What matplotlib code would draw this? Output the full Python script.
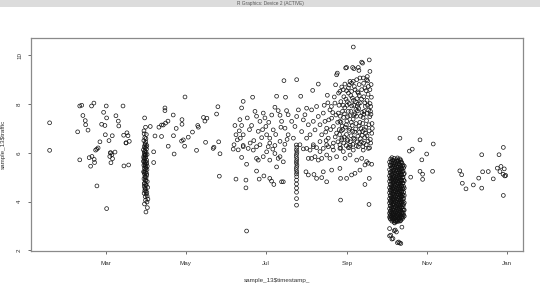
import datetime as dt
import matplotlib
matplotlib.use("Agg")
import matplotlib.pyplot as plt
import matplotlib.dates as mdates

plt.rcParams['font.family'] = ['Liberation Sans', 'DejaVu Sans']

# (day of 2013, traffic)
early = [(16, 7.23), (16, 6.1), (37.4, 6.86), (39, 7.92), (40.5, 7.95), (41.4, 7.53),
         (43.2, 7.32), (43.5, 7.15), (45.3, 6.93), (39, 5.71), (48, 7.92), (49.8, 8.04),
         (46.2, 5.8), (47.3, 5.45), (48.3, 5.85), (50, 5.73), (50.3, 5.6), (51.1, 6.11),
         (52, 6.15), (53, 6.2), (54.4, 6.45), (52.1, 4.64), (55.7, 7.17), (57.2, 7.66),
         (58.2, 7.12), (59.2, 7.92), (59.5, 7.43), (58.5, 6.74), (61.3, 6.5), (63.8, 6.7),
         (62.3, 6.0), (61.9, 5.85), (62.7, 6.0), (63.5, 5.92), (64, 5.76), (62.8, 5.59),
         (65.9, 6.03), (66.6, 7.52), (68.4, 7.3), (68.8, 7.1), (72, 7.92), (72.7, 5.46),
         (72.5, 6.72), (74.3, 6.41), (75, 6.82), (75.8, 6.7), (74.3, 6.4), (76.8, 6.47),
         (76.3, 5.5), (59.5, 3.71)]

mar_stripe = [(88.5, 7.43), (89.2, 7.05), (88.0, 6.9), (89.8, 6.75), (88.6, 6.62), (87.9, 6.5),
              (89.4, 6.45), (88.9, 6.38), (90.2, 6.3), (88.2, 6.25), (89.0, 6.2), (87.6, 6.12),
              (88.7, 6.08), (89.6, 6.02), (88.3, 5.97), (90.4, 5.93), (88.9, 5.88), (87.8, 5.84),
              (89.3, 5.8), (88.5, 5.75), (90.0, 5.7), (88.1, 5.66), (89.1, 5.62), (88.6, 5.57),
              (89.8, 5.53), (87.9, 5.49), (88.8, 5.45), (89.5, 5.4), (88.3, 5.36), (90.3, 5.31),
              (88.9, 5.27), (87.7, 5.22), (89.2, 5.18), (88.4, 5.13), (90.1, 5.08), (88.7, 5.03),
              (89.6, 4.98), (88.0, 4.93), (89.0, 4.88), (90.5, 4.82), (88.5, 4.76), (89.4, 4.7),
              (88.2, 4.63), (90.8, 4.58), (89.1, 4.52), (88.6, 4.45), (90.2, 4.38), (89.7, 4.3),
              (88.9, 4.2), (91.0, 4.1), (90.3, 3.98), (88.4, 3.9), (90.6, 3.75), (89.5, 3.57),
              (88.1, 6.78), (89.5, 6.58), (88.8, 6.33), (89.9, 6.15), (88.4, 6.04), (89.2, 5.91),
              (87.9, 5.78), (90.1, 5.6), (88.7, 5.51), (89.4, 5.34), (88.2, 5.2), (90.0, 5.15),
              (88.9, 5.0), (89.5, 4.85), (88.3, 4.73), (89.8, 4.66), (88.7, 4.55), (89.3, 4.42),
              (88.1, 4.34), (90.4, 4.22), (89.2, 4.05), (88.6, 5.92), (90.5, 5.45), (87.6, 5.65),
              (89.7, 6.25),
              (95.4, 6.04), (95.4, 5.6), (99.4, 7.05), (96.4, 6.69), (92.8, 7.08)]

spring = [(104, 7.84), (104, 7.73), (102.7, 7.14), (104.5, 7.22), (106.3, 7.3), (101.4, 7.14),
          (110.3, 7.55), (112.6, 7.0), (110.5, 6.7), (117, 7.36), (117, 7.17), (119.3, 8.29),
          (125, 6.85), (121.8, 6.64), (118, 6.53), (116.7, 6.48), (129, 7.12), (129.5, 7.05),
          (133.4, 7.45), (134.5, 7.3), (136, 7.42), (135, 6.43), (141.4, 6.23), (143.4, 7.59),
          (144.4, 7.89), (145, 6.45), (106.5, 6.27), (111, 5.95), (119, 6.27), (128.1, 6.1),
          (140.8, 6.18), (146, 5.96), (145.5, 5.04), (101.4, 6.67)]

summer = [(157.4, 7.12), (158.2, 6.74), (159.2, 6.53), (156.7, 6.33), (161.2, 7.36), (162.5, 7.12),
          (160.7, 6.9), (163.7, 6.74), (162.5, 7.84), (163.7, 8.11), (166.8, 7.43), (170.9, 8.28),
          (170.1, 7.12), (172.7, 7.7), (173.9, 7.5), (176.5, 7.29), (175.2, 6.88), (179, 7.63),
          (180.3, 7.43), (181, 7.08), (181.6, 6.74), (184, 6.6), (186.6, 6.94), (187.9, 7.87),
          (189.2, 8.32), (190.4, 7.73), (191.8, 7.54), (193, 7.29), (194.8, 8.96), (196, 8.28),
          (196.8, 7.73), (198, 7.56), (195.6, 7.01), (198, 6.74), (191.8, 6.47), (184, 6.4),
          (187.9, 6.3), (176.5, 6.33), (169, 6.4), (163.7, 6.3), (156.1, 6.15), (159.9, 6.12),
          (163.7, 6.25), (167.5, 6.18), (171.4, 6.11), (173.9, 6.25), (162.5, 5.81), (166.3, 5.53),
          (173.9, 5.77), (175.2, 5.7), (179, 5.84), (181.6, 6.04), (182.8, 6.25), (184, 5.7),
          (187.9, 5.97), (189.2, 5.42), (190.4, 5.77), (191.8, 5.84), (194.3, 5.63), (194.8, 6.11),
          (173.9, 5.25), (175.9, 4.92), (179.5, 5.05), (184, 4.95), (185.3, 4.84), (187.1, 4.7),
          (193, 4.81), (194.3, 4.81), (165.8, 4.88), (165.8, 4.56), (158.2, 4.92), (166.3, 2.79),
          (168.5, 6.95), (177.8, 6.62), (183.2, 7.25), (185.5, 7.55), (188.5, 6.75), (192.5, 7.05),
          (197.2, 6.55), (161.5, 6.6), (171.8, 6.5), (178.5, 6.95), (186.3, 6.15), (195.5, 6.35)]

jul_stripe = [(204.2, 6.32), (204.6, 6.22), (204.3, 6.12), (204.7, 6.03), (204.4, 5.94),
              (204.2, 5.85), (204.6, 5.76), (204.4, 5.67), (204.3, 5.58), (204.7, 5.49),
              (204.4, 5.4), (204.2, 5.31), (204.6, 5.22), (204.4, 5.13), (204.5, 5.02),
              (204.4, 4.88), (204.4, 4.72), (204.4, 4.55), (204.4, 4.38), (204.4, 4.12),
              (204.4, 3.85)]

aug_sep = [(200.7, 7.29), (204.5, 7.49), (203.2, 7.08), (205.8, 7.76), (208.3, 6.87), (209.6, 7.35),
           (210.8, 7.56), (212.1, 7.83), (213.4, 7.15), (214.7, 6.74), (215.9, 7.76), (217.2, 7.29),
           (218.5, 6.94), (219.7, 7.9), (221, 7.49), (222.3, 7.15), (223.6, 6.74), (224.8, 7.63),
           (226.1, 7.29), (227.4, 7.01), (228.6, 6.6), (229.9, 7.76), (231.2, 7.42), (232.5, 7.08),
           (233.7, 8.04), (235, 6.81), (236.3, 7.63), (237.5, 7.29), (238.8, 6.53), (202, 6.6),
           (207, 6.33), (212.1, 6.6), (217.2, 6.33), (222.3, 6.46), (227.4, 6.33), (232.5, 6.4),
           (237.5, 6.33), (209.6, 6.16), (212.1, 6.18), (214.7, 6.11), (217.2, 6.25), (219.7, 6.21),
           (222.3, 6.05), (224.8, 6.18), (228.6, 6.25), (232.5, 6.11), (237.5, 6.18), (240.1, 6.05),
           (243.9, 6.21), (247.7, 6.11), (251.5, 6.25), (255.3, 6.11), (259.2, 6.18), (213.4, 5.77),
           (215.9, 5.77), (218.5, 5.84), (221, 5.7), (223.6, 5.77), (227.4, 5.91), (229.9, 5.77),
           (235, 5.84), (241.4, 5.77), (245.2, 5.91), (250.3, 5.7), (254.1, 5.77), (257.9, 5.64),
           (261.7, 5.53), (211.6, 5.22), (213.4, 5.09), (217.7, 5.11), (219.7, 4.95), (223.6, 4.98),
           (224.8, 5.22), (227.4, 4.81), (231.2, 5.29), (237.5, 5.36), (238, 4.95), (242.6, 4.95),
           (246.4, 5.09), (249, 5.16), (252.8, 5.29), (256.6, 5.5), (259.2, 5.57), (259.9, 4.95),
           (256.6, 4.7), (238, 4.06), (259.7, 3.88),
           (247.7, 10.34), (235, 9.2), (235.5, 9.27), (234.2, 8.79), (241.9, 9.48), (242.6, 9.5),
           (247.2, 9.5), (248.2, 9.45), (251.5, 9.5), (252, 9.38), (254.1, 9.72), (254.8, 9.68),
           (259.9, 9.81), (260.4, 9.34), (258.4, 9.13), (257.9, 9.0), (255.3, 9.07), (252.8, 9.07),
           (250.3, 9.0), (245.2, 8.93), (247.7, 8.93), (246.4, 8.86), (237.5, 8.52), (240.1, 8.59),
           (242.6, 8.55), (243.9, 8.66), (246.4, 8.52), (249, 8.59), (251.5, 8.45), (254.1, 8.59),
           (256.6, 8.66), (259.2, 8.72), (260.4, 8.59), (216.7, 8.56), (221, 8.82), (227.9, 8.36),
           (233.2, 8.29), (204.5, 9.0), (207.6, 8.32),
           (240.5, 8.3), (243.2, 8.1), (245.8, 8.35), (248.1, 7.95), (250.6, 8.22), (253.0, 8.05),
           (255.7, 8.3), (258.2, 8.15), (260.5, 8.02), (261.5, 8.28), (241.2, 7.85), (243.9, 7.7),
           (246.5, 7.92), (249.0, 7.6), (251.8, 7.82), (254.3, 7.66), (256.9, 7.9), (259.4, 7.75),
           (261.2, 7.58), (240.3, 7.45), (242.8, 7.3), (245.1, 7.52), (247.6, 7.38), (250.2, 7.5),
           (252.7, 7.25), (255.2, 7.45), (257.8, 7.32), (260.3, 7.48), (262.0, 7.2), (241.6, 7.05),
           (244.4, 6.92), (246.9, 7.12), (249.5, 6.98), (252.1, 7.1), (254.8, 6.88), (257.3, 7.05),
           (259.8, 6.9), (261.8, 6.8), (240.8, 6.65), (243.5, 6.5), (246.0, 6.7), (248.6, 6.55),
           (251.2, 6.68), (253.9, 6.45), (256.4, 6.62), (258.9, 6.48), (261.0, 6.4), (242.2, 6.3),
           (244.9, 6.22), (247.4, 6.35), (250.0, 6.28), (252.5, 6.38), (255.0, 6.25), (257.6, 6.33),
           (260.1, 6.2), (239.5, 7.7), (239.2, 7.1), (238.6, 6.9), (244.0, 8.45), (251.0, 8.5),
           (257.5, 8.55), (248.8, 6.85), (253.5, 7.0), (246.2, 7.25), (255.9, 7.7), (250.9, 7.9),
           (243.0, 7.95), (259.0, 8.4), (245.5, 6.45), (254.5, 6.72), (247.9, 8.15), (252.3, 8.35),
           (256.2, 6.95), (249.7, 7.78), (242.5, 6.75), (225.5, 7.95), (228.3, 8.05), (231.0, 7.9),
           (234.5, 7.55), (236.8, 7.95), (238.2, 8.1), (226.7, 6.85), (230.4, 6.95), (233.9, 6.65),
           (237.0, 6.95), (229.0, 7.35), (232.0, 7.65), (235.8, 7.25), (239.0, 6.6), (227.0, 6.5),
           (231.8, 6.25), (236.0, 6.45),
           (236.5, 8.45), (238.9, 8.7), (241.3, 8.82), (244.7, 8.78), (248.5, 8.72), (252.2, 8.8),
           (255.6, 8.85), (258.6, 8.95), (261.3, 8.8), (237.8, 7.5), (240.0, 7.95), (242.1, 8.2),
           (244.6, 8.02), (247.0, 8.25), (249.3, 8.1), (251.6, 8.0), (254.0, 8.2), (256.5, 8.05),
           (258.6, 7.95), (261.0, 7.9), (238.3, 7.25), (240.9, 7.6), (243.4, 7.48), (245.9, 7.7),
           (248.3, 7.55), (250.8, 7.72), (253.3, 7.5), (255.8, 7.58), (258.1, 7.62), (260.8, 7.7),
           (237.2, 6.75), (239.8, 6.95), (242.4, 7.15), (244.9, 7.0), (247.3, 6.88), (249.8, 7.2),
           (252.4, 6.85), (254.9, 7.2), (257.1, 6.8), (259.6, 7.15), (262.2, 7.0), (238.1, 6.2),
           (240.5, 6.4), (243.0, 6.55), (245.4, 6.3), (247.9, 6.6), (250.6, 6.45), (253.1, 6.58),
           (255.6, 6.4), (258.2, 6.7), (260.7, 6.55)]

# dense October block, one column of readings per day
oct_stripe = [
    (275.4, [5.62, 5.31, 5.05, 4.83, 4.57, 4.36, 4.12, 3.94, 3.71, 3.52, 3.36, 2.89, 2.59]),
    (275.8, [5.5, 5.18, 4.94, 4.7, 4.46, 4.24, 4.02, 3.82, 3.6, 3.44, 3.3]),
    (276.3, [5.74, 5.48, 5.22, 4.98, 4.71, 4.49, 4.27, 4.05, 3.83, 3.62, 3.43, 3.27, 2.62]),
    (276.8, [5.63, 5.38, 5.1, 4.86, 4.6, 4.38, 4.15, 3.94, 3.72, 3.52, 3.35]),
    (277.2, [5.8, 5.57, 5.36, 5.12, 4.9, 4.66, 4.44, 4.2, 3.99, 3.77, 3.55, 3.38, 3.2, 2.46]),
    (277.6, [5.7, 5.46, 5.24, 5.0, 4.78, 4.55, 4.32, 4.1, 3.88, 3.66, 3.45, 3.28]),
    (278.0, [5.68, 5.42, 5.17, 4.94, 4.76, 4.53, 4.31, 4.09, 3.88, 3.66, 3.47, 3.29, 2.48]),
    (278.5, [5.58, 5.3, 5.06, 4.85, 4.64, 4.42, 4.2, 3.98, 3.77, 3.56, 3.38, 3.22]),
    (278.9, [5.77, 5.51, 5.28, 5.03, 4.81, 4.6, 4.38, 4.16, 3.92, 3.71, 3.5, 3.33, 3.15, 2.8]),
    (279.3, [5.66, 5.44, 5.2, 4.95, 4.72, 4.5, 4.28, 4.06, 3.85, 3.64, 3.46, 3.3, 3.12]),
    (279.7, [5.6, 5.39, 5.14, 4.88, 4.68, 4.45, 4.23, 4.02, 3.8, 3.59, 3.4, 3.22, 2.83]),
    (280.2, [5.52, 5.28, 5.05, 4.83, 4.6, 4.4, 4.17, 3.96, 3.74, 3.53, 3.34, 3.18]),
    (280.6, [5.72, 5.46, 5.24, 5.0, 4.79, 4.55, 4.34, 4.11, 3.9, 3.68, 3.46, 3.26, 2.75]),
    (281.0, [5.64, 5.4, 5.15, 4.92, 4.7, 4.48, 4.25, 4.03, 3.82, 3.6, 3.41, 3.22]),
    (281.4, [5.79, 5.55, 5.3, 5.07, 4.85, 4.63, 4.4, 4.18, 3.96, 3.74, 3.53, 3.35, 3.18, 2.31]),
    (281.9, [5.7, 5.45, 5.21, 4.99, 4.77, 4.55, 4.33, 4.12, 3.9, 3.69, 3.48, 3.3]),
    (282.3, [5.65, 5.4, 5.18, 4.95, 4.72, 4.5, 4.28, 4.07, 3.86, 3.64, 3.44, 3.25, 2.34]),
    (282.7, [5.55, 5.3, 5.08, 4.86, 4.63, 4.41, 4.19, 3.98, 3.77, 3.56, 3.36, 3.2]),
    (283.1, [5.75, 5.5, 5.26, 5.02, 4.8, 4.58, 4.35, 4.14, 3.93, 3.7, 3.49, 3.3, 2.3]),
    (283.6, [5.62, 5.38, 5.14, 4.9, 4.68, 4.46, 4.24, 4.02, 3.8, 3.58, 3.38, 3.2]),
    (284.0, [5.7, 5.44, 5.2, 4.97, 4.74, 4.52, 4.3, 4.08, 3.85, 3.63, 3.42, 3.24, 2.28]),
    (284.4, [5.62, 5.32, 5.08, 4.86, 4.63, 4.41, 4.19, 3.96, 3.74, 3.52, 3.33]),
    (284.8, [5.58, 5.35, 5.1, 4.87, 4.65, 4.42, 4.2, 3.98, 3.76, 3.56, 3.37, 2.95]),
    (285.2, [5.45, 5.22, 4.98, 4.76, 4.54, 4.31, 4.09, 3.87, 3.66, 3.46, 3.3]),
    (285.7, [5.5, 5.25, 5.0, 4.75, 4.5, 4.25, 4.0, 3.78, 3.55, 3.36]),
    (286.1, [5.38, 5.12, 4.88, 4.62, 4.38, 4.12, 3.88, 3.66, 3.46]),
    (286.6, [5.45, 5.15, 4.85, 4.55, 4.25, 3.95, 3.65, 3.4]),
]

late = [(283.3, 6.6), (290.5, 6.07), (292.7, 6.15), (291.5, 5.0), (298.6, 6.53), (308.7, 6.36),
        (303.7, 5.95), (300, 5.71), (298.6, 5.24), (300.6, 5.12), (300.6, 4.91), (308.2, 5.24),
        (329, 5.26), (330.4, 5.1), (330.9, 4.75), (333.7, 4.52), (339.3, 4.68), (345.7, 4.55),
        (343.4, 4.96), (346.4, 5.22), (350.7, 5.23), (354.5, 4.93), (345.7, 5.92), (358.9, 5.92),
        (362.2, 6.22), (357.6, 5.37), (360.4, 5.44), (359.6, 5.23), (362.9, 5.34), (362, 5.12),
        (363.3, 5.05), (364, 5.07), (362.2, 4.25)]

pts = early + mar_stripe + spring + summer + jul_stripe + aug_sep + late
for d, vals in oct_stripe:
    pts += [(d, v) for v in vals]

start = dt.datetime(2013, 1, 1)
xs = [mdates.date2num(start + dt.timedelta(days=d)) for d, v in pts]
ys = [v for d, v in pts]

fig = plt.figure(figsize=(5.4, 2.9), dpi=100, facecolor='white')

# window title bar of the R device
bar = fig.add_axes([0, 1 - 7 / 290, 1, 7 / 290])
bar.set_facecolor('#dcdcdc')
bar.set_xticks([])
bar.set_yticks([])
for s in bar.spines.values():
    s.set_visible(False)
bar.text(0.5, 0.5, 'R Graphics: Device 2 (ACTIVE)', ha='center', va='center',
         fontsize=3.4, color='#555555', transform=bar.transAxes)

ax = fig.add_axes([31 / 540, 39 / 290, 492 / 540, 213 / 290])
ax.scatter(xs, ys, s=7.5, facecolors='none', edgecolors='#111111', linewidths=0.5)

ax.set_xlim(mdates.date2num(start + dt.timedelta(days=1.8)),
            mdates.date2num(start + dt.timedelta(days=377.2)))
ax.set_ylim(1.97, 10.71)
ax.xaxis.set_major_locator(mdates.MonthLocator(bymonth=[1, 3, 5, 7, 9, 11]))
ax.xaxis.set_major_formatter(mdates.DateFormatter('%b'))
ax.set_yticks([2, 4, 6, 8, 10])

for s in ax.spines.values():
    s.set_color('#8a8a8a')
    s.set_linewidth(0.9)
ax.tick_params(axis='both', length=2.5, width=0.6, color='#555555',
               labelsize=4.5, labelcolor='#333333')
ax.tick_params(axis='x', pad=5)
ax.tick_params(axis='y', pad=4)
for lab in ax.get_yticklabels():
    lab.set_rotation(90)
    lab.set_va('center')

ax.set_xlabel('sample_13\\$timestamp_', fontsize=4.5, color='#333333', labelpad=8)
ax.set_ylabel('sample_13\\$traffic', fontsize=4.5, color='#333333', labelpad=8)

fig.savefig('out.png', dpi=100, facecolor='white')
